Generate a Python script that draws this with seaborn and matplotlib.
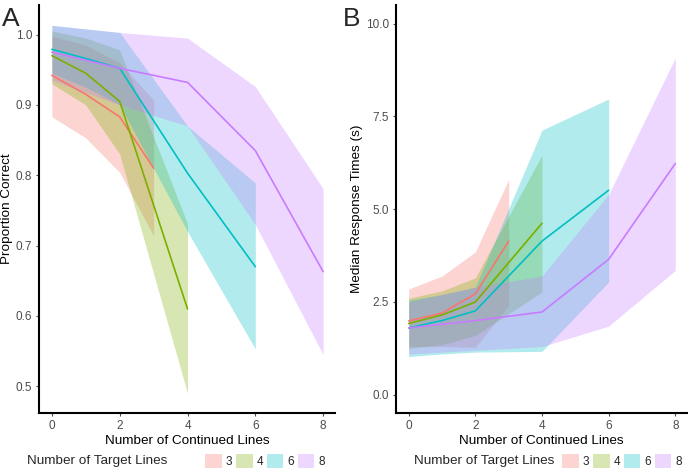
import pandas as pd
import matplotlib.pyplot as plt
import seaborn as sns
from matplotlib.patches import Patch

# target line counts and ggplot-like hue colours
targets = [3, 4, 6, 8]
colors = ['#F8766D', '#7CAE00', '#00BFC4', '#C77CFF']

# x positions (number of continued lines) per target count
x_vals = {
    3: [0, 1, 2, 3],
    4: [0, 1, 2, 4],
    6: [0, 1, 2, 4, 6],
    8: [0, 2, 4, 6, 8],
}

# Panel A: proportion correct (mean, lower, upper)
acc_mean = {
    3: [0.942, 0.915, 0.883, 0.810],
    4: [0.970, 0.945, 0.905, 0.610],
    6: [0.979, 0.966, 0.952, 0.803, 0.670],
    8: [0.975, 0.952, 0.932, 0.835, 0.663],
}
acc_low = {
    3: [0.883, 0.853, 0.804, 0.714],
    4: [0.930, 0.900, 0.830, 0.490],
    6: [0.945, 0.925, 0.900, 0.720, 0.553],
    8: [0.935, 0.900, 0.870, 0.730, 0.545],
}
acc_high = {
    3: [0.998, 0.985, 0.960, 0.907],
    4: [1.005, 0.995, 0.978, 0.731],
    6: [1.013, 1.008, 1.003, 0.870, 0.789],
    8: [1.013, 1.003, 0.995, 0.926, 0.781],
}

# Panel B: median response times (s)
rt_mean = {
    3: [1.99, 2.20, 2.72, 4.14],
    4: [1.92, 2.15, 2.50, 4.62],
    6: [1.80, 2.00, 2.26, 4.14, 5.51],
    8: [1.80, 2.00, 2.23, 3.65, 6.23],
}
rt_low = {
    3: [1.30, 1.30, 1.28, 2.40],
    4: [1.25, 1.35, 1.60, 2.77],
    6: [1.03, 1.10, 1.15, 1.17, 3.04],
    8: [1.10, 1.20, 1.30, 1.85, 3.35],
}
rt_high = {
    3: [2.85, 3.20, 3.85, 5.80],
    4: [2.60, 2.80, 3.15, 6.46],
    6: [2.55, 2.70, 2.90, 7.13, 7.97],
    8: [2.50, 2.90, 3.20, 5.40, 9.08],
}

rows = []
for t in targets:
    for i, x in enumerate(x_vals[t]):
        rows.append({'target': t, 'x': x,
                     'acc': acc_mean[t][i], 'acc_lo': acc_low[t][i], 'acc_hi': acc_high[t][i],
                     'rt': rt_mean[t][i], 'rt_lo': rt_low[t][i], 'rt_hi': rt_high[t][i]})
df = pd.DataFrame(rows)

sns.set_style('ticks')
plt.rcParams['font.family'] = ['Liberation Sans', 'DejaVu Sans']

fig = plt.figure(figsize=(6.88, 4.76), dpi=100)
ax1 = fig.add_axes([39 / 688, 63 / 476, 296 / 688, 408 / 476])
ax2 = fig.add_axes([396 / 688, 63 / 476, 291 / 688, 408 / 476])
palette = dict(zip(targets, colors))


def draw_panel(ax, col, ylabel):
    for t in targets:
        sub = df[df['target'] == t]
        ax.fill_between(sub['x'], sub[col + '_lo'], sub[col + '_hi'],
                        color=palette[t], alpha=0.3, linewidth=0)
    sns.lineplot(data=df, x='x', y=col, hue='target', palette=palette,
                 ax=ax, legend=False, linewidth=1.2, estimator=None, sort=True)
    ax.set_xlabel('Number of Continued Lines', fontsize=9.7, color='black', labelpad=2)
    ax.set_ylabel(ylabel, fontsize=9.7, color='black', labelpad=2)
    ax.set_xticks([0, 2, 4, 6, 8])
    ax.set_xlim(-0.38, 8.35)
    for s in ['top', 'right']:
        ax.spines[s].set_visible(False)
    for s in ['left', 'bottom']:
        ax.spines[s].set_linewidth(1.5)
        ax.spines[s].set_color('black')
    ax.tick_params(labelsize=8.5, colors='#4D4D4D', length=2.5, pad=2.5)


draw_panel(ax1, 'acc', 'Proportion Correct')
ax1.set_ylim(0.462, 1.042)
ax1.set_yticks([0.5, 0.6, 0.7, 0.8, 0.9, 1.0])
ax1.set_yticklabels(['0.5', '0.6', '0.7', '0.8', '0.9', '1.0'])

draw_panel(ax2, 'rt', 'Median Response Times (s)')
ax2.set_ylim(-0.49, 10.5)
ax2.set_yticks([0, 2.5, 5, 7.5, 10])
ax2.set_yticklabels(['0.0', '2.5', '5.0', '7.5', '10.0'])

fig.text(2 / 688, 1 - 26 / 476, 'A', fontsize=19)
fig.text(343 / 688, 1 - 26 / 476, 'B', fontsize=19)

# legends below each panel
handles = [Patch(facecolor=c, alpha=0.3, edgecolor='none') for c in colors]
labels = [str(t) for t in targets]
for title_x, leg_x in [(27, 203), (414, 560)]:
    fig.text(title_x / 688, 1 - 461 / 476, 'Number of Target Lines',
             fontsize=9.7, va='center')
    fig.legend(handles, labels, ncol=4, loc='center left',
               bbox_to_anchor=(leg_x / 688, 1 - 461 / 476), frameon=False,
               fontsize=8.5, handlelength=1.4, handleheight=1.4,
               handletextpad=0.35, columnspacing=0.3, borderaxespad=0,
               borderpad=0.2)

plt.savefig('out.png', dpi=100)
